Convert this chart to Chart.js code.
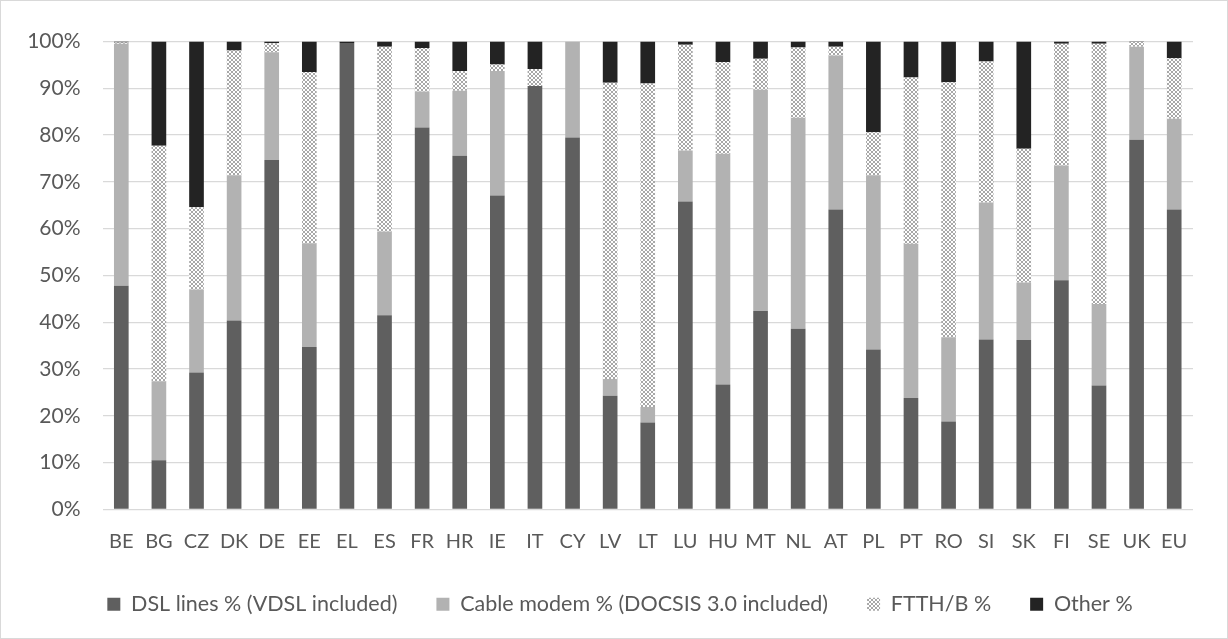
<!DOCTYPE html>
<html>
<head>
<meta charset="utf-8">
<script src="https://cdn.jsdelivr.net/npm/chart.js@4.4.1/dist/chart.umd.min.js"></script>
<style>
html,body{margin:0;padding:0;background:#fff;}
#wrap{position:relative;width:1226px;height:637px;border:1px solid #d9d9d9;}
</style>
</head>
<body>
<div id="wrap"><canvas id="c"></canvas></div>
<script>
const categories = ['BE','BG','CZ','DK','DE','EE','EL','ES','FR','HR','IE','IT','CY','LV','LT','LU','HU','MT','NL','AT','PL','PT','RO','SI','SK','FI','SE','UK','EU'];
const dslLines   = [47.8,10.5,29.3,40.4,74.7,34.7,99.7,41.5,81.6,75.6,67.1,90.5,79.5,24.3,18.6,65.8,26.7,42.4,38.6,64.1,34.2,23.8,18.8,36.3,36.2,49.0,26.5,79.0,64.1];
const cableModem = [51.7,16.9,17.7,31.0,23.0,22.2,0.0,17.9,7.7,13.9,26.6,0.0,20.5,3.6,3.3,10.9,49.3,47.3,45.1,32.9,37.2,33.0,18.0,29.3,12.3,24.5,17.4,19.9,19.4];
const ftthB      = [0.3,50.3,17.6,26.7,1.9,36.6,0.0,39.5,9.3,4.2,1.4,3.6,0.0,63.3,69.1,22.6,19.6,6.6,15.0,1.9,9.2,35.5,54.5,30.1,28.6,26.0,55.6,1.0,12.9];
const other      = [0.2,22.3,35.4,1.9,0.4,6.5,0.3,1.1,1.4,6.3,4.9,5.9,0.0,8.8,9.0,0.7,4.4,3.7,1.3,1.1,19.4,7.7,8.7,4.3,22.9,0.5,0.5,0.1,3.6];
const seriesNames = ['DSL lines % (VDSL included)','Cable modem % (DOCSIS 3.0 included)','FTTH/B %','Other %'];
const yTicks = [0,10,20,30,40,50,60,70,80,90,100];

function checker(){
  const p = document.createElement('canvas');
  p.width = 4; p.height = 4;
  const g = p.getContext('2d');
  g.fillStyle = '#ffffff'; g.fillRect(0,0,4,4);
  g.fillStyle = '#a8a8a8';
  g.fillRect(0,0,2,2); g.fillRect(2,2,2,2);
  return g.createPattern(p,'repeat');
}
const pat = checker();
const FONT = 'Lato, "Open Sans", sans-serif';
const TXT = '#595959';

new Chart(document.getElementById('c'), {
  type: 'bar',
  data: {
    labels: categories,
    datasets: [
      {label: seriesNames[0], data: dslLines, backgroundColor: '#5f5f5f'},
      {label: seriesNames[1], data: cableModem, backgroundColor: '#b2b2b2'},
      {label: seriesNames[2], data: ftthB, backgroundColor: pat},
      {label: seriesNames[3], data: other, backgroundColor: '#232323'}
    ]
  },
  options: {
    responsive: true,
    maintainAspectRatio: false,
    animation: false,
    datasets: {bar: {categoryPercentage: 1, barPercentage: 0.39, borderWidth: 0}},
    layout: {padding: {left: 12, right: 0, top: 40.5, bottom: 13}},
    scales: {
      x: {
        stacked: true,
        grid: {display: false, drawTicks: false},
        border: {display: false},
        afterFit: (ax) => { ax.height = 45; },
        ticks: {color: TXT, font: {family: FONT, size: 20}, padding: 20, maxRotation: 0, autoSkip: false}
      },
      y: {
        stacked: true,
        min: 0, max: 100,
        afterBuildTicks: (ax) => { ax.ticks = yTicks.map(v => ({value: v})); },
        afterFit: (ax) => { ax.width = 89.5; },
        grid: {color: '#d9d9d9', lineWidth: 1.3, drawTicks: false},
        border: {display: false},
        ticks: {color: TXT, font: {family: FONT, size: 21}, padding: 22, callback: v => v + '%'}
      },
      yRight: {
        position: 'right',
        display: true,
        min: 0, max: 100,
        grid: {display: false, drawTicks: false},
        border: {display: false},
        ticks: {display: false},
        afterFit: (ax) => { ax.width = 34; }
      }
    },
    plugins: {
      legend: {
        position: 'bottom',
        labels: {color: TXT, font: {family: FONT, size: 21.5}, boxWidth: 13, boxHeight: 13, padding: 39}
      },
      tooltip: {enabled: false}
    }
  }
});
</script>
</body>
</html>
